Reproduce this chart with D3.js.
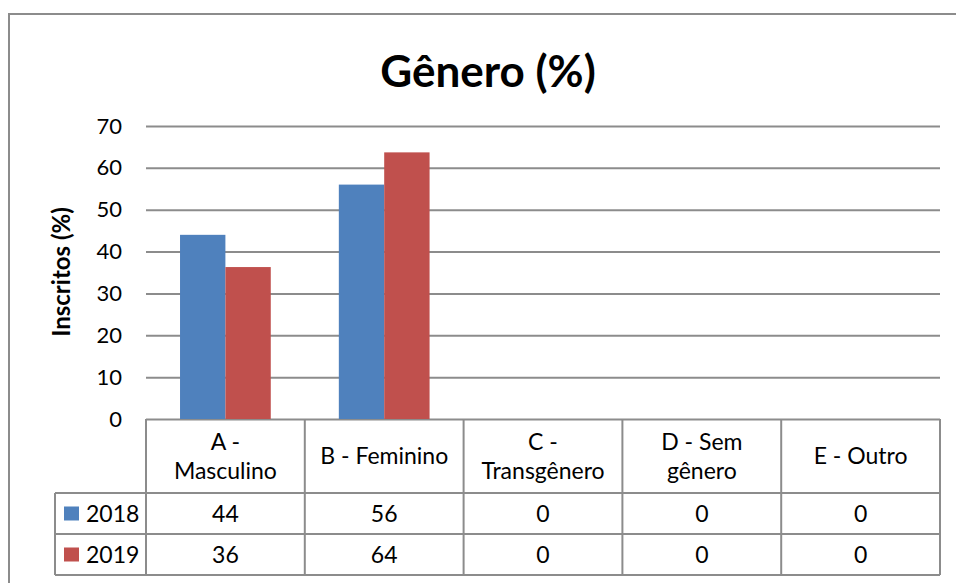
<!DOCTYPE html>
<html>
<head>
<meta charset="utf-8">
<script src="https://cdn.jsdelivr.net/npm/d3@7"></script>
<style>
  body { margin: 0; background: #fff; }
  text { font-family: Lato, "Open Sans", sans-serif; fill: #000; }
</style>
</head>
<body>
<div id="chart"></div>
<script>
// data
const categories = ["A - Masculino", "B - Feminino", "C - Transgênero", "D - Sem gênero", "E - Outro"]
const categoryLines = [["A -", "Masculino"], ["B - Feminino"], ["C -", "Transgênero"], ["D - Sem", "gênero"], ["E - Outro"]]
const years = ["2018", "2019"]
const values2018 = [44, 56, 0, 0, 0]
const values2019 = [36.3, 63.7, 0, 0, 0]
const yTicks = [0, 10, 20, 30, 40, 50, 60, 70]
const colors = ["#4F81BD", "#C0504D"]

function drawChart() {
    const width = 956
    const height = 583
    const series = [values2018, values2019]

    const plot = { left: 146, right: 940, top: 126, bottom: 419 }
    const rowLines = [493, 534, 575]
    const keyLeft = 55
    const grey = "#8c8c8c"

    const svg = d3.select("#chart")
        .append("svg")
        .attr("width", width)
        .attr("height", height)

    // outer chart border (only top and left are visible)
    svg.append("path")
        .attr("d", `M9,${height + 2}V14H${width + 2}`)
        .attr("fill", "none")
        .attr("stroke", grey)
        .attr("stroke-width", 2)

    svg.append("text")
        .attr("x", 488)
        .attr("y", 87)
        .attr("text-anchor", "middle")
        .style("font-size", "44px")
        .style("font-weight", "bold")
        .text("Gênero (%)")

    const x = d3.scaleBand()
        .domain(categories)
        .range([plot.left, plot.right])

    const xs = d3.scaleBand()
        .domain(years)
        .range([0, x.bandwidth()])
        .paddingInner(0)
        .paddingOuter(0.75)

    const y = d3.scaleLinear()
        .domain([0, 70])
        .range([plot.bottom, plot.top])

    // gridlines + tick labels
    const yAxis = svg.append("g")
        .attr("transform", `translate(${plot.left},0)`)
        .call(d3.axisLeft(y)
            .tickValues(yTicks)
            .tickSize(-(plot.right - plot.left))
            .tickPadding(24))
    yAxis.select(".domain").remove()
    yAxis.selectAll(".tick line")
        .attr("stroke", grey)
        .attr("stroke-width", 2)
    yAxis.selectAll(".tick text")
        .style("font-family", "Lato, sans-serif")
        .style("font-size", "22px")
        .attr("fill", "#000")

    svg.append("text")
        .attr("transform", "translate(70,272) rotate(-90)")
        .attr("text-anchor", "middle")
        .style("font-size", "24px")
        .style("font-weight", "bold")
        .text("Inscritos (%)")

    // bars
    years.forEach((yr, i) => {
        svg.append("g")
            .selectAll("rect")
            .data(categories)
            .join("rect")
            .attr("x", d => x(d) + xs(yr))
            .attr("width", xs.bandwidth())
            .attr("y", (d, j) => y(series[i][j]))
            .attr("height", (d, j) => y(0) - y(series[i][j]))
            .attr("fill", colors[i])
    })

    // data table
    const table = svg.append("g")
        .attr("stroke", grey)
        .attr("stroke-width", 2)

    const bounds = categories.map(d => x(d)).concat([plot.right])
    table.selectAll("line.v")
        .data(bounds)
        .join("line")
        .attr("x1", d => d)
        .attr("x2", d => d)
        .attr("y1", plot.bottom)
        .attr("y2", rowLines[2])

    table.selectAll("line.h")
        .data(rowLines)
        .join("line")
        .attr("x1", keyLeft)
        .attr("x2", plot.right)
        .attr("y1", d => d)
        .attr("y2", d => d)

    table.append("line")
        .attr("x1", keyLeft)
        .attr("x2", keyLeft)
        .attr("y1", rowLines[0])
        .attr("y2", rowLines[2])

    // header (category names)
    const headerMid = (plot.bottom + rowLines[0]) / 2
    svg.append("g")
        .selectAll("text")
        .data(categories)
        .join("text")
        .attr("text-anchor", "middle")
        .style("font-size", "23px")
        .each(function(d, i) {
            const lines = categoryLines[i]
            const t = d3.select(this)
            lines.forEach((ln, k) => {
                t.append("tspan")
                    .attr("x", x(d) + x.bandwidth() / 2)
                    .attr("y", headerMid + (k - (lines.length - 1) / 2) * 29)
                    .attr("dy", "0.35em")
                    .text(ln)
            })
        })

    // value rows with legend keys
    years.forEach((yr, i) => {
        const mid = (rowLines[i] + rowLines[i + 1]) / 2
        svg.append("rect")
            .attr("x", 64)
            .attr("y", mid - 7)
            .attr("width", 15)
            .attr("height", 14)
            .attr("fill", colors[i])
        svg.append("text")
            .attr("x", 86)
            .attr("y", mid)
            .attr("dy", "0.35em")
            .style("font-size", "23px")
            .text(yr)
        svg.append("g")
            .selectAll("text")
            .data(categories)
            .join("text")
            .attr("x", d => x(d) + x.bandwidth() / 2)
            .attr("y", mid)
            .attr("dy", "0.35em")
            .attr("text-anchor", "middle")
            .style("font-size", "23px")
            .text((d, j) => d3.format(".0f")(series[i][j]))
    })
}

drawChart()
</script>
</body>
</html>
